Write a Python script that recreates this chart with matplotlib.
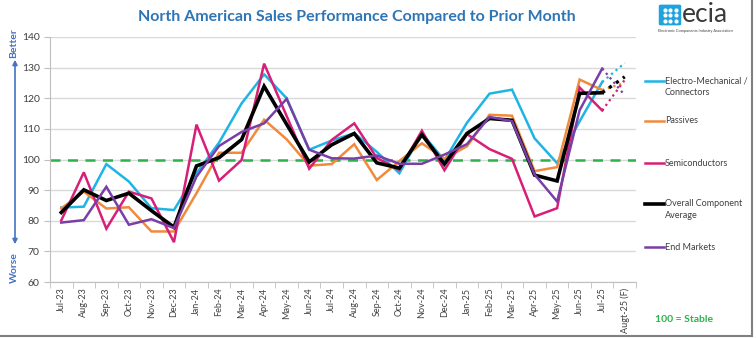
import numpy as np
import matplotlib
matplotlib.use("Agg")
import matplotlib.pyplot as plt
from matplotlib.lines import Line2D
from matplotlib.patches import FancyBboxPatch

plt.rcParams['font.family'] = ['Lato', 'DejaVu Sans']

months = ["Jul-23", "Aug-23", "Sep-23", "Oct-23", "Nov-23", "Dec-23",
          "Jan-24", "Feb-24", "Mar-24", "Apr-24", "May-24", "Jun-24",
          "Jul-24", "Aug-24", "Sep-24", "Oct-24", "Nov-24", "Dec-24",
          "Jan-25", "Feb-25", "Mar-25", "Apr-25", "May-25", "Jun-25",
          "Jul-25", "Augt-25 (F)"]

# last value of each series is the August forecast (dotted)
electro = [84.3, 84.6, 98.5, 92.8, 84.1, 83.5, 95.5, 105.5, 118.3, 127.8,
           120.0, 103.2, 106.2, 108.6, 102.5, 95.5, 108.6, 99.7, 112.0, 121.5,
           122.8, 106.9, 98.8, 112.5, 125.3, 131.5]
passives = [84.0, 89.5, 84.0, 84.4, 76.5, 76.5, 89.0, 102.2, 102.2, 113.0,
            106.6, 98.0, 98.5, 105.0, 93.3, 99.5, 105.3, 100.3, 104.3, 114.6,
            114.3, 96.2, 97.5, 126.1, 122.7, 125.0]
semis = [80.1, 95.8, 77.4, 89.5, 87.3, 73.0, 111.4, 93.1, 99.8, 131.3,
         114.2, 97.0, 106.4, 111.8, 100.5, 96.6, 109.4, 96.5, 108.3, 103.4,
         100.2, 81.4, 84.1, 123.5, 116.0, 126.0]
overall = [82.7, 90.1, 86.6, 89.0, 83.3, 77.9, 97.9, 100.6, 106.5, 123.9,
           111.5, 99.2, 104.8, 108.5, 98.9, 97.2, 108.1, 98.5, 108.5, 113.4,
           112.8, 94.9, 93.0, 121.6, 121.8, 127.0]
end_markets = [79.4, 80.2, 91.1, 78.7, 80.5, 77.6, 94.4, 104.4, 109.0, 111.8,
               119.8, 103.2, 100.4, 100.3, 101.3, 98.6, 98.6, 101.6, 105.0, 113.9,
               112.5, 95.1, 86.3, 116.1, 129.7, 121.0]

series = [
    ("Electro-Mechanical /\nConnectors", electro, "#1fb4e6", 1.8),
    ("Passives", passives, "#f08a3c", 1.8),
    ("Semiconductors", semis, "#d81f78", 1.8),
    ("Overall Component\nAverage", overall, "#000000", 2.6),
    ("End Markets", end_markets, "#7a3fa6", 1.8),
]

W, H = 756, 338
fig = plt.figure(figsize=(W / 100, H / 100), dpi=100)
ax = fig.add_axes([50 / W, 1 - 282 / H, (636 - 50) / W, (282 - 37) / H])

x = np.arange(len(months))
for name, vals, col, lw in series:
    ax.plot(x[:-1], vals[:-1], color=col, lw=lw, solid_joinstyle="miter")
    ax.plot(x[-2:], vals[-2:], color=col, lw=lw * 0.9, ls=(0, (1, 1.6)))

ax.axhline(100, color="#2db34a", lw=1.8, ls=(0, (4, 3)), zorder=1)

ax.set_xlim(-0.5, len(months) - 0.5)
ax.set_ylim(60, 140)
ax.set_yticks(np.arange(60, 141, 10))
ax.set_xticks(x)
ax.set_xticklabels(months, rotation=90, fontsize=6.5, color="#404040")
ax.set_xticks(np.arange(-0.5, len(months), 1), minor=True)
ax.tick_params(axis="x", which="major", length=0, pad=4)
ax.tick_params(axis="x", which="minor", length=4, color="#bfbfbf")
ax.tick_params(axis="y", length=4, color="#bfbfbf", labelsize=7.5, labelcolor="#404040")
ax.grid(axis="y", color="#d9d9d9", lw=1)
ax.set_axisbelow(True)
for s in ["top", "right"]:
    ax.spines[s].set_visible(False)
for s in ["left", "bottom"]:
    ax.spines[s].set_color("#bfbfbf")

# legend, hand placed on the right
leg_y = [81, 121, 163, 204, 247]
for (name, vals, col, lw), yy in zip(series, leg_y):
    fy = 1 - yy / H
    fig.add_artist(Line2D([645 / W, 664 / W], [fy, fy], color=col, lw=lw))
    fig.text(665 / W, fy + 4.5 / H, name, fontsize=6.5, color="#404040",
             va="top", ha="left", linespacing=1.4)

fig.text(655 / W, 1 - 320 / H, "100 = Stable", fontsize=7.5, color="#2db34a",
         fontweight="bold", va="center")

# title
fig.text(357 / W, 1 - 17 / H, "North American Sales Performance Compared to Prior Month",
         fontsize=11.5, fontweight="bold", color="#2e75b6", ha="center", va="center")

# better / worse arrow
blue = "#4472c4"
fig.text(14 / W, 1 - 43 / H, "Better", rotation=90, fontsize=7.5, color=blue,
         ha="center", va="center", fontweight="bold")
fig.text(14 / W, 1 - 268 / H, "Worse", rotation=90, fontsize=7.5, color=blue,
         ha="center", va="center", fontweight="bold")
ax.annotate("", xy=(15 / W, 1 - 57 / H), xytext=(15 / W, 1 - 247 / H),
            xycoords="figure fraction", textcoords="figure fraction",
            arrowprops=dict(arrowstyle="<|-|>", color=blue, lw=1.2,
                            mutation_scale=7))

# ecia logo
fig.add_artist(FancyBboxPatch((661 / W, 1 - 24 / H), 18 / W, 18 / H,
                              boxstyle="round,pad=0.002", color="#1fa3dc",
                              transform=fig.transFigure))
for i in range(3):
    for j in range(3):
        fig.add_artist(Line2D([(664.5 + j * 5.5) / W], [1 - (9.5 + i * 5.5) / H],
                              marker="o", ms=2, color="white", lw=0))
fig.text(682 / W, 1 - 15 / H, "ecia", fontsize=19, color="#3a3a3a",
         va="center", ha="left")
fig.text(658 / W, 1 - 31 / H, "Electronic Components Industry Association",
         fontsize=2.8, color="#404040", va="center", ha="left")

# screenshot frame
fig.add_artist(Line2D([752 / W, 752 / W], [1 - 336 / H, 1], color="#808080", lw=1.5))
fig.add_artist(Line2D([0, 752 / W], [1 - 336 / H, 1 - 336 / H], color="#808080", lw=1.5))

fig.savefig("out.png", dpi=100)
